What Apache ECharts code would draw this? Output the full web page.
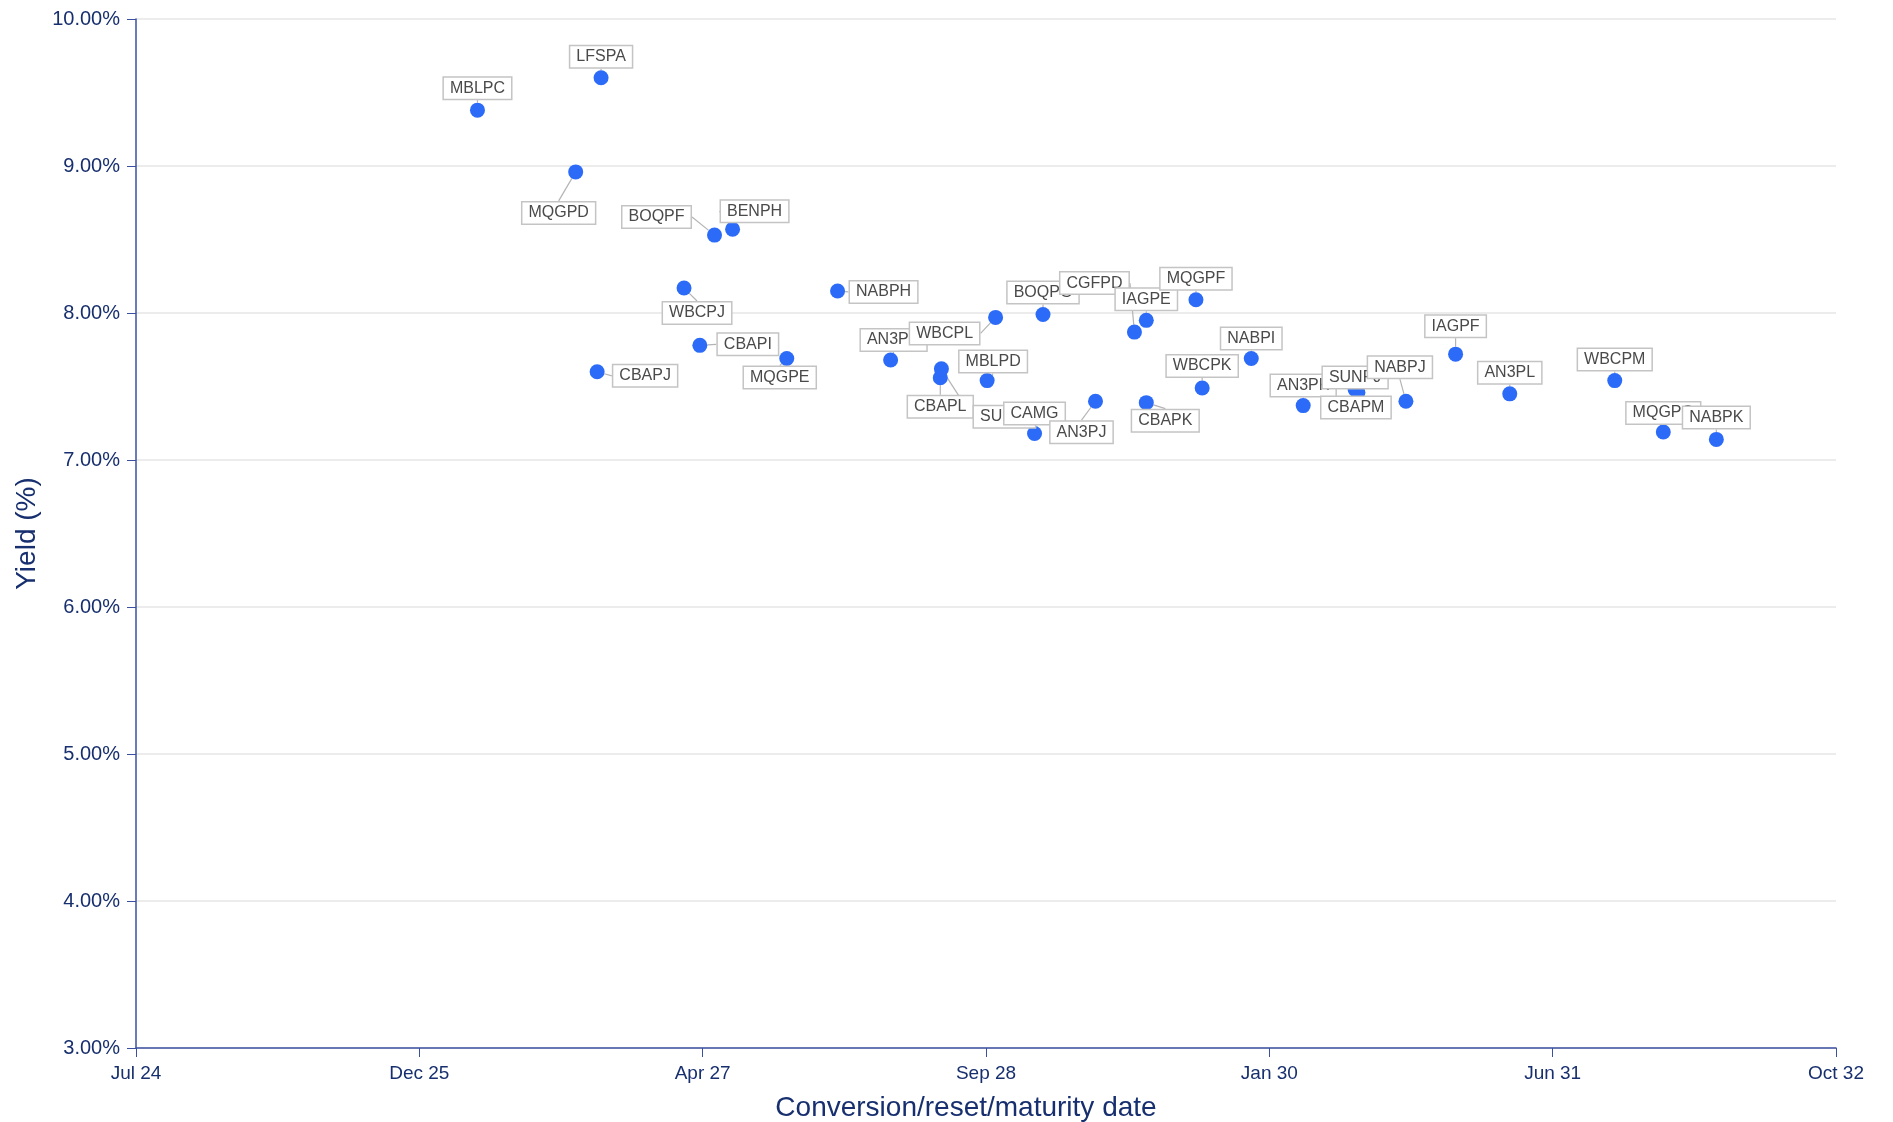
<!DOCTYPE html>
<html>
<head>
<meta charset="utf-8">
<script src="https://cdn.jsdelivr.net/npm/echarts@6/dist/echarts.min.js"></script>
<style>
html,body{margin:0;padding:0;background:#fff;}
#chart{width:1893px;height:1122px;}
</style>
</head>
<body>
<div id="chart"></div>
<script>
// ---- data ----
const names = ['MBLPC','CBAPJ','MQGPD','LFSPA','WBCPJ','CBAPI','BOQPF','BENPH','MQGPE','NABPH','AN3PH','CBAPL','SUNPI','MBLPD','WBCPL','CAMG','BOQPG','AN3PJ','CGFPD','IAGPE','CBAPK','MQGPF','WBCPK','NABPI','AN3PK','SUNPJ','CBAPM','NABPJ','IAGPF','AN3PL','WBCPM','MQGPG','NABPK'];
const dates = ['2026-03-21','2026-10-19','2026-09-11','2026-10-26','2027-03-22','2027-04-19','2027-05-15','2027-06-16','2027-09-20','2027-12-19','2028-03-22','2028-06-18','2028-06-20','2028-09-09','2028-09-24','2028-12-02','2028-12-17','2029-03-20','2029-05-28','2029-06-18','2029-06-18','2029-09-14','2029-09-25','2029-12-21','2030-03-23','2030-06-23','2030-06-28','2030-09-21','2030-12-18','2031-03-24','2031-09-26','2031-12-21','2032-03-24'];
const yields = [9.38,7.60,8.96,9.60,8.17,7.78,8.53,8.57,7.69,8.15,7.68,7.56,7.62,7.54,7.97,7.18,7.99,7.40,7.87,7.95,7.39,8.09,7.49,7.69,7.37,7.48,7.46,7.40,7.72,7.45,7.54,7.19,7.14];
const yTicks = [3,4,5,6,7,8,9,10];
const xStart = '2024-07-24';   // first tick "Jul 24"
const xStepDays = 502;         // tick spacing in days
const xTickCount = 6;

// label placement (pixel offsets of the label centre from its point)
const labelOffsets = {
  MBLPC:[0,-22], LFSPA:[0,-21], MQGPD:[-17,41], BOQPF:[-58,-18], BENPH:[22,-18],
  WBCPJ:[13,25], NABPH:[46,1], CBAPI:[48,-1], MQGPE:[-7,19], CBAPJ:[48,4],
  AN3PH:[3,-20], WBCPL:[-51,16], BOQPG:[0,-22], CGFPD:[-40,-49], IAGPE:[0,-21],
  MQGPF:[0,-21], MBLPD:[6,-19], CBAPL:[0,29], SUNPI:[63,48], CAMG:[0,-20],
  AN3PJ:[-14,31], CBAPK:[19,18], WBCPK:[0,-22], NABPI:[0,-20], AN3PK:[0,-20],
  SUNPJ:[0,-12], CBAPM:[-2,15], NABPJ:[-6,-34], IAGPF:[0,-28], AN3PL:[0,-21],
  WBCPM:[0,-21], MQGPG:[0,-19], NABPK:[0,-22]
};

const DAY = 86400000;
const base = Date.parse(xStart + 'T00:00:00Z');
const months = ['Jan','Feb','Mar','Apr','May','Jun','Jul','Aug','Sep','Oct','Nov','Dec'];
function dayOffset(s){ return (Date.parse(s + 'T00:00:00Z') - base) / DAY; }
function fmtDay(v){
  const d = new Date(base + v * DAY);
  return months[d.getUTCMonth()] + ' ' + String(d.getUTCFullYear() % 100).padStart(2,'0');
}

const seriesData = names.map((n,i) => ({ name: n, value: [dayOffset(dates[i]), yields[i]] }));

const navy = '#172f6e';
const axisBlue = '#3a50a0';
const font = '"Liberation Sans", Arial, Helvetica, sans-serif';

const chart = echarts.init(document.getElementById('chart'));
chart.setOption({
  animation: false,
  backgroundColor: '#fff',
  textStyle: { fontFamily: font },
  grid: { left: 136, right: 57, top: 19, bottom: 74, containLabel: false, outerBoundsMode: 'none' },
  xAxis: {
    type: 'value',
    min: 0,
    max: xStepDays * xTickCount,
    interval: xStepDays,
    name: 'Conversion/reset/maturity date',
    nameLocation: 'middle',
    nameGap: 46,
    nameTextStyle: { color: navy, fontSize: 28, fontFamily: font, padding: [0, 40, 0, 0] },
    axisLine: { show: true, lineStyle: { color: axisBlue, width: 1.5 } },
    axisTick: { show: true, length: 9, lineStyle: { color: axisBlue } },
    axisLabel: { color: navy, fontSize: 19, margin: 16, fontFamily: font, formatter: fmtDay },
    splitLine: { show: false }
  },
  yAxis: {
    type: 'value',
    min: yTicks[0],
    max: yTicks[yTicks.length - 1],
    interval: 1,
    name: 'Yield (%)',
    nameLocation: 'middle',
    nameGap: 94,
    nameRotate: 90,
    nameTextStyle: { color: navy, fontSize: 28, fontFamily: font },
    axisLine: { show: true, lineStyle: { color: axisBlue, width: 1.5 } },
    axisTick: { show: true, length: 9, lineStyle: { color: axisBlue } },
    axisLabel: { color: navy, fontSize: 20, margin: 16, fontFamily: font,
      formatter: v => v.toFixed(2) + '%' },
    splitLine: { show: true, lineStyle: { color: '#e6e6e6', width: 1.5 } }
  },
  series: [{
    type: 'scatter',
    symbol: 'circle',
    symbolSize: 15,
    itemStyle: { color: '#2b6bf7', opacity: 1 },
    data: seriesData,
    label: {
      show: true,
      position: 'inside',
      formatter: p => p.name,
      color: '#4a4a4a',
      fontSize: 16,
      fontFamily: font,
      backgroundColor: '#ffffff',
      borderColor: '#c4c4c4',
      borderWidth: 1.5,
      padding: [3, 6, 2, 6]
    },
    labelLine: { show: true, lineStyle: { color: '#b4b4b4', width: 1.2 } },
    labelLayout: function (params) {
      const n = names[params.dataIndex];
      const off = labelOffsets[n] || [0, -20];
      return { dx: off[0], dy: off[1] };
    }
  }]
});
</script>
</body>
</html>
